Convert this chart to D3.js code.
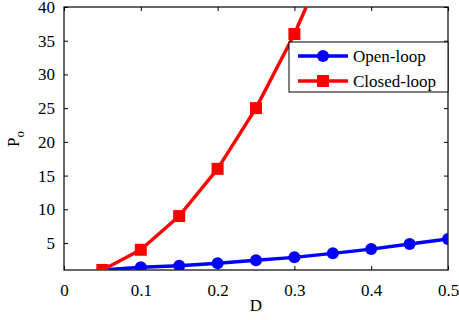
<!DOCTYPE html>
<html>
<head>
<meta charset="utf-8">
<script src="https://cdn.jsdelivr.net/npm/d3@7"></script>
<style>
  body { margin: 0; background: #fff; }
  svg text { font-family: "Liberation Serif", "Times New Roman", serif; }
</style>
</head>
<body>
<script>
const dutyOpen = [0.05, 0.1, 0.15, 0.2, 0.25, 0.3, 0.35, 0.4, 0.45, 0.5];
const openLoop = [1.0, 1.4, 1.64, 2.0, 2.44, 2.88, 3.47, 4.1, 4.85, 5.6];
const dutyClosed = [0.05, 0.1, 0.15, 0.2, 0.25, 0.3, 0.35];
const closedLoop = [1.0, 4.0, 9.0, 16.0, 25.0, 36.0, 49.0];
const xTicks = [0, 0.1, 0.2, 0.3, 0.4, 0.5];
const yTicks = [5, 10, 15, 20, 25, 30, 35, 40];

const width = 459, height = 320;
const margin = {top: 7, right: 11, bottom: 50, left: 64};
const innerW = width - margin.left - margin.right;
const innerH = height - margin.top - margin.bottom;

const x = d3.scaleLinear().domain([0, 0.5]).range([0, innerW]);
const y = d3.scaleLinear().domain([1, 40]).range([innerH, 0]);

const $svg = d3.select('body').append('svg').attr('width', width).attr('height', height);
const $g = $svg.append('g').attr('transform', `translate(${margin.left}, ${margin.top})`);

$svg.append('defs').append('clipPath').attr('id', 'plot-clip')
  .append('rect').attr('width', innerW).attr('height', innerH);

const fmt = d => d === 0 ? '0' : d3.format('.1f')(d);
const tickLen = 4;

// axes, ticks pointing inward like matlab
const styleAxis = sel => {
  sel.select('.domain').remove();
  sel.selectAll('line').attr('stroke', '#000');
  sel.selectAll('text').attr('font-size', 17).attr('fill', '#000');
};

$g.append('g').attr('transform', `translate(0, ${innerH})`)
  .call(d3.axisBottom(x).tickValues(xTicks).tickFormat(fmt).tickSizeInner(-tickLen).tickSizeOuter(0).tickPadding(14))
  .call(styleAxis);
$g.append('g')
  .call(d3.axisTop(x).tickValues(xTicks).tickFormat('').tickSizeInner(-tickLen).tickSizeOuter(0))
  .call(styleAxis);
$g.append('g')
  .call(d3.axisLeft(y).tickValues(yTicks).tickSizeInner(-tickLen).tickSizeOuter(0).tickPadding(9))
  .call(styleAxis);
$g.append('g').attr('transform', `translate(${innerW}, 0)`)
  .call(d3.axisRight(y).tickValues(yTicks).tickFormat('').tickSizeInner(-tickLen).tickSizeOuter(0))
  .call(styleAxis);

$g.append('rect')
  .attr('width', innerW).attr('height', innerH)
  .attr('fill', 'none').attr('stroke', '#000').attr('stroke-width', 1.2);

const series = [
  {name: 'Open-loop', xs: dutyOpen, ys: openLoop, color: '#0000ff', marker: 'circle'},
  {name: 'Closed-loop', xs: dutyClosed, ys: closedLoop, color: '#ff0000', marker: 'square'}
];

const line = d3.line().x(d => x(d[0])).y(d => y(d[1]));
const $plot = $g.append('g').attr('clip-path', 'url(#plot-clip)');

const drawMarker = ($sel, s, cx, cy) => {
  if (s.marker === 'circle') {
    $sel.append('circle').attr('cx', cx).attr('cy', cy).attr('r', 6).attr('fill', s.color);
  } else {
    $sel.append('rect').attr('x', cx - 6).attr('y', cy - 6).attr('width', 12).attr('height', 12).attr('fill', s.color);
  }
};

series.forEach(s => {
  const pts = s.xs.map((d, i) => [d, s.ys[i]]);
  $plot.append('path').datum(pts)
    .attr('d', line).attr('fill', 'none')
    .attr('stroke', s.color).attr('stroke-width', 3.4).attr('stroke-linejoin', 'round');
  pts.forEach(p => drawMarker($plot, s, x(p[0]), y(p[1])));
});

// legend
const $legend = $g.append('g').attr('transform', `translate(${innerW - 159}, 35)`);
$legend.append('rect').attr('width', 159).attr('height', 50)
  .attr('fill', '#fff').attr('stroke', '#000').attr('stroke-width', 1);
series.forEach((s, i) => {
  const ly = 14 + i * 25;
  $legend.append('line').attr('x1', 9).attr('x2', 59).attr('y1', ly).attr('y2', ly)
    .attr('stroke', s.color).attr('stroke-width', 3.4);
  drawMarker($legend, s, 34, ly);
  $legend.append('text').attr('x', 64).attr('y', ly).attr('dy', '0.35em')
    .attr('font-size', 17).text(s.name);
});

// axis labels
$svg.append('text')
  .attr('x', margin.left + innerW / 2).attr('y', 311)
  .attr('text-anchor', 'middle').attr('font-size', 17).text('D');

const $ylab = $svg.append('text')
  .attr('transform', `translate(19, ${margin.top + 132}) rotate(-90)`)
  .attr('text-anchor', 'middle').attr('font-size', 17);
$ylab.append('tspan').text('P');
$ylab.append('tspan').attr('dy', 5).attr('font-size', 13).text('o');
</script>
</body>
</html>
